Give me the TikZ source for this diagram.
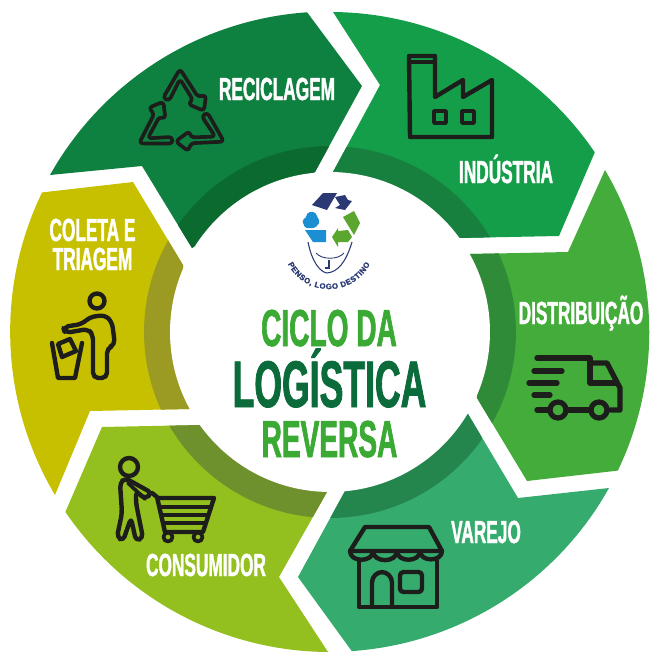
\documentclass[tikz,border=0pt]{standalone}
\usepackage{fontspec}
\usetikzlibrary{decorations.text}
\newfontfamily\ringfont[FakeStretch=0.54,FakeBold=1.2]{Liberation Sans Bold}
\newfontfamily\logofont[FakeBold=1.5]{Liberation Sans Bold}
\definecolor{reciclaF}{HTML}{0E8140}
\definecolor{reciclaB}{HTML}{0B6B2F}
\definecolor{industF}{HTML}{159E4A}
\definecolor{industB}{HTML}{17803F}
\definecolor{distF}{HTML}{44AC3A}
\definecolor{distB}{HTML}{2F8B38}
\definecolor{varejoF}{HTML}{35AB6D}
\definecolor{varejoB}{HTML}{24854D}
\definecolor{consF}{HTML}{93C01F}
\definecolor{consB}{HTML}{6E912D}
\definecolor{coletaF}{HTML}{C7C000}
\definecolor{coletaB}{HTML}{9B9B23}
\definecolor{titleL}{HTML}{3AAA35}
\definecolor{titleD}{HTML}{0B6B3A}
\definecolor{logoN}{HTML}{2B3A75}
\definecolor{logoB}{HTML}{1B8FD2}
\definecolor{logoG}{HTML}{5AA62E}
\definecolor{iconK}{HTML}{1D1D1B}
\tikzstyle{ringlabel}=[text=white, inner sep=0pt, anchor=base, font=\ringfont\fontsize{18.2}{20}\selectfont]
\tikzstyle{titlelabel}=[text=titleL, inner sep=0pt, anchor=base, font=\ringfont\fontsize{29.6}{30}\selectfont]
\tikzstyle{icon}=[draw=iconK, line width=2.5pt, line join=round, line cap=round]
\tikzstyle{thinicon}=[icon, line width=2.1pt]
\newcommand{\ringlabel}{\node[ringlabel]}
\newcommand{\titlelabel}{\node[titlelabel]}
\newcommand{\ringpart}[3]{\fill[#1] #3; \begin{scope}\clip #3; \fill[#2] (330,332) circle[radius=3.72cm]; \end{scope}}
\newcommand{\outerarc}[2]{arc[start angle=#1, end angle=#2, radius=6.4cm]}

\begin{document}
\begin{tikzpicture}[x=0.02cm, y=-0.02cm]
\useasboundingbox (0,0) rectangle (660,670);
\ringpart{reciclaF}{reciclaB}{(50,175) \outerarc{150.72}{93.93} -- (362,86) -- (315,172) -- (192,248) -- (142,166) -- cycle}
\ringpart{industF}{industB}{(333,12) \outerarc{89.46}{34.14} -- (559,236) -- (458,238) -- (333,172) -- (380,85) -- cycle}
\ringpart{distF}{distB}{(605,170) \outerarc{30.5}{-25.6} -- (527,481) -- (477,398) -- (470,254) -- (568,252) -- cycle}
\ringpart{varejoF}{varejoB}{(609,488) \outerarc{-29.2}{-86.05} -- (298,577) -- (345,491) -- (468,414) -- (518,498) -- cycle}
\ringpart{consF}{consB}{(328,652) \outerarc{-90.36}{-145.8} -- (102,427) -- (200,425) -- (327,492) -- (279,577) -- cycle}
\ringpart{coletaF}{coletaB}{(55,495) \outerarc{210.7}{154.2} -- (133,182) -- (183,265) -- (190,409) -- (90,411) -- cycle}
\fill[white] (330,332) circle[radius=3.2cm];

\ringlabel (reciclagem) at (277,100) {RECICLAGEM};
\ringlabel (industria) at (506,183) {INDÚSTRIA};
\ringlabel (distribuicao) at (581,324) {DISTRIBUIÇÃO};
\ringlabel (varejo) at (486,543) {VAREJO};
\ringlabel (consumidor) at (206,576) {CONSUMIDOR};
\ringlabel (coleta) at (92.5,241) {COLETA E};
\ringlabel (triagem) at (92.5,270) {TRIAGEM};

\titlelabel (ciclo) at (329,346) {CICLO DA};
\node[titlelabel, text=titleD, font=\ringfont\fontsize{37.5}{38}\selectfont] (logistica) at (329.5,407) {LOGÍSTICA};
\titlelabel (reversa) at (329.5,457) {REVERSA};

\foreach \a in {0,120,240}
  \draw[thinicon, rounded corners=2pt, rotate around={\a:(181,118)}] (163,98) -- (180,69) -- (198,97) -- (206,95) -- (204,111) -- (188,104) -- (193,100) -- (180,79) -- (169,101) -- cycle;

\draw[icon] (409,56) -- (435,56) -- (435,97) -- (463,80) -- (463,97) -- (492,80) -- (492,137) -- (410,137) -- cycle;
\draw[thinicon] (409,62) -- (435,62);
\draw[thinicon] (434,111) rectangle (446,123);
\draw[thinicon] (462,111) rectangle (474,123);

\draw[icon, line width=3pt] (537,358) -- (590,358) -- (590,383) -- (615,383);
\draw[icon, line width=3pt] (590,363) -- (607,363) -- (620,388) -- (620,410) -- (610,410);
\draw[icon, line width=3pt] (534,371) -- (562,371);
\draw[icon, line width=3pt] (529,383) -- (557,383);
\draw[icon, line width=3pt] (534,395) -- (550,395);
\draw[icon, line width=3pt] (537,410) -- (549,410);
\draw[icon, line width=3pt] (568,410) -- (590,410);
\draw[icon, line width=3pt] (558,410) circle[radius=0.16cm];
\draw[icon, line width=3pt] (599,410) circle[radius=0.16cm];

\draw[icon] (365,527) -- (429,527) -- (442,551) -- (350,551) -- cycle;
\draw[icon] (350,551) to[out=-90, in=-90, looseness=1.3] (373,551) to[out=-90, in=-90, looseness=1.3] (397,551) to[out=-90, in=-90, looseness=1.3] (420,551) to[out=-90, in=-90, looseness=1.3] (442,551);
\draw[icon] (359,561) -- (359,607) -- (437,607) -- (437,561);
\draw[icon, rounded corners=6pt] (372,607) -- (372,572) -- (392,572) -- (392,607);
\draw[icon, rounded corners=2pt] (400,572) rectangle (422,592);

\draw[icon] (129,467) circle[radius=0.18cm];
\draw[icon, rounded corners=2.5pt] (125,478) -- (152,493) -- (145,499) -- (136,491) -- (136,503) -- (143,538) -- (136,541) -- (131,518) -- (123,541) -- (117,537) -- (122,513) -- (120,483) -- cycle;
\draw[thinicon] (128,483) -- (145,499);
\draw[icon] (152,493) -- (157,497) -- (165,532) -- (203,532) -- (214,498) -- (157,498);
\draw[thinicon] (160,507) -- (211,507);
\draw[thinicon] (162,515) -- (208,515);
\draw[thinicon] (164,523) -- (205,523);
\draw[thinicon] (168,537) circle[radius=0.09cm];
\draw[thinicon] (198,537) circle[radius=0.09cm];

\draw[icon] (97,301) circle[radius=0.15cm];
\draw[icon, rounded corners=3pt] (63,327) -- (82,324) -- (90,317) -- (105,315) -- (112,322) -- (115,345) -- (107,348) -- (107,378) -- (93,378) -- (93,335) -- (88,329) -- (65,333) -- cycle;
\draw[icon] (52,343) -- (58,378) -- (75,378) -- (82,343);
\draw[icon] (58,344) -- (70,339) -- (76,351) -- (62,357) -- cycle;

\fill[logoN] (323,193) -- (337,193) -- (327,210) -- (312,205) -- cycle;
\fill[logoN] (335,197) -- (345,195) -- (348,200) -- (352,201) -- (345,210) -- (335,208) -- (340,205) -- cycle;
\fill[logoB, rounded corners=1pt] (308,212) -- (315,212) -- (320,222) -- (315,228) -- (305,228) -- (302,220) -- (305,219) -- cycle;
\fill[logoB] (305,230) -- (326,230) -- (326,242) -- (313,242) -- cycle;
\fill[logoG] (343,217) -- (354,211) -- (360,223) -- (354,235) -- cycle;
\fill[logoG] (332,237) -- (338,228) -- (338,231) -- (348,230) -- (352,237) -- (348,242) -- (338,242) -- (338,247) -- cycle;
\draw[logoN, line width=0.6pt] (308,242) .. controls (312,262) and (320,272) .. (327,273) .. controls (338,272) and (346,262) .. (352,242);
\draw[logoN, line width=0.5pt] (316,253) .. controls (322,260) and (338,260) .. (344,253);
\draw[logoN, line width=0.6pt] (329,260) -- (329,268) -- (325,268);
\path[decorate, decoration={text along path, text align={fit to path}, text={|\logofont\fontsize{4.4}{6}\selectfont\color{logoN}|PENSO, LOGO DESTINO}}] (288,264) arc[start angle=207, end angle=333, radius=0.92cm];
\end{tikzpicture}
\end{document}
